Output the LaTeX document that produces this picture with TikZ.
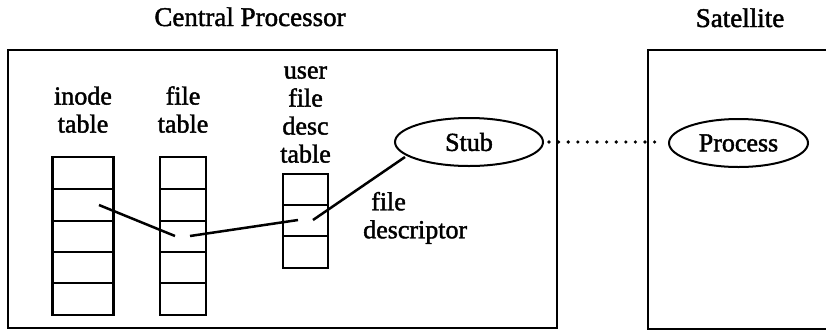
\documentclass[tikz,border=0pt]{standalone}
\usepackage{fontspec}
\setmainfont{Liberation Serif}[FakeBold=1.6]
\usetikzlibrary{shapes.geometric}
\begin{document}
\begin{tikzpicture}[x=1pt,y=-1pt,
  frame/.style={draw, line width=2.4pt, inner sep=0pt, outer sep=0pt},
  tbl/.style={draw, line width=2.2pt, inner sep=0pt, outer sep=0pt, minimum width=61pt},
  row/.style={line width=2.2pt},
  lbl/.style={font=\fontsize{26}{28}\selectfont, align=center, inner sep=0pt, anchor=south},
  ttl/.style={font=\fontsize{27}{29}\selectfont, inner sep=0pt, anchor=base},
  oval/.style={draw, ellipse, line width=2pt, inner sep=0pt, font=\fontsize{26}{28}\selectfont},
  link/.style={line width=2.5pt},
  dots/.style={line width=3.6pt, line cap=round, dash pattern=on 0pt off 9.6pt, shorten <=5pt, shorten >=6pt}]
\clip (0,0) rectangle (826,330);
% titles
\node[ttl] (cpt) at (250,26) {Central Processor};
\node[ttl] (sat) at (740,27) {Satellite};
% boxes
\node[frame, minimum width=549pt, minimum height=278pt] (cbox) at (282.5,189) {};
\node[frame, minimum width=188pt, minimum height=279pt] (sbox) at (742,189.5) {};
% inode table
\node[tbl, minimum width=61pt, minimum height=158pt] (inode) at (83,236) {};
\foreach \y in {189,221,252,283} \draw[row] (52.5,\y) -- (113.5,\y);
% file table
\node[tbl, minimum width=46pt, minimum height=158pt] (ftab) at (183,236) {};
\foreach \y in {189,221,252,283} \draw[row] (160,\y) -- (206,\y);
% user file descriptor table
\node[tbl, minimum width=45pt, minimum height=94pt] (utab) at (305.5,221) {};
\foreach \y in {205,236} \draw[row] (283,\y) -- (328,\y);
% labels
\node[lbl] (ilbl) at (83,133) {inode\\table};
\node[lbl] (flbl) at (183,133) {file\\table};
\node[lbl] (ulbl) at (305.5,163) {user\\file\\desc\\table};
\node[lbl, align=left, anchor=south west] (fdlbl) at (363,244) {\hspace*{8pt}file\\descriptor};
% ellipses
\node[oval, minimum width=148pt, minimum height=48pt] (stub) at (469,142) {Stub};
\node[oval, minimum width=139pt, minimum height=48pt] (proc) at (738.5,143) {Process};
% connectors
\coordinate (a1) at (99,205);
\coordinate (a2) at (175,236);
\coordinate (b1) at (190,236);
\coordinate (b2) at (298,220);
\coordinate (c1) at (313,220);
\coordinate (c2) at (405,157);
\draw[link] (a1) -- (a2);
\draw[link] (b1) -- (b2);
\draw[link] (c1) -- (c2);
\draw[dots] (stub.east) -- (stub.east -| proc.west);
\end{tikzpicture}
\end{document}
